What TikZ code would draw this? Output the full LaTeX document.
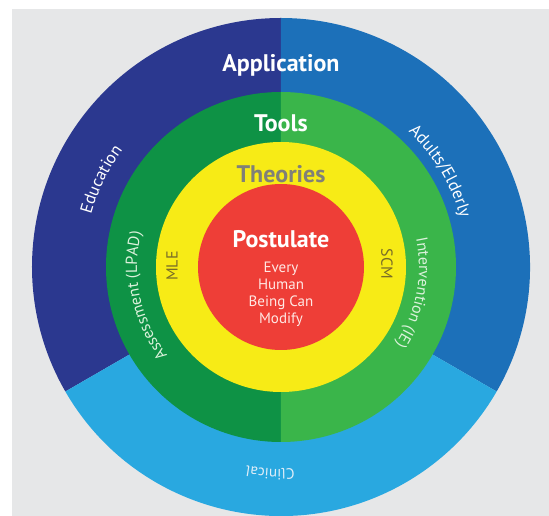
\documentclass[tikz,border=0pt]{standalone}
\usepackage{fontspec}
\setmainfont{PT Sans}
\usetikzlibrary{decorations.text}
\definecolor{bggray}{RGB}{230,231,232}
\definecolor{navy}{RGB}{43,56,143}
\definecolor{midblue}{RGB}{28,112,185}
\definecolor{lightblue}{RGB}{41,168,224}
\definecolor{darkgreen}{RGB}{14,146,69}
\definecolor{lightgreen}{RGB}{58,181,74}
\definecolor{ringyellow}{RGB}{247,235,22}
\definecolor{corered}{RGB}{238,62,55}
\definecolor{theorygray}{RGB}{128,128,120}
\definecolor{olivetext}{RGB}{120,108,40}
\definecolor{palegreen}{RGB}{220,242,220}
\definecolor{paleblue}{RGB}{225,238,248}
\definecolor{palered}{RGB}{255,232,228}
\newcommand\fsBig{\fontsize{24}{28}\bfseries\selectfont}
\newcommand\fsRing{\fontsize{17}{20}\selectfont}
\newcommand\fsTool{\fontsize{16}{19}\selectfont}
\newcommand\fsCore{\fontsize{15}{18}\selectfont}
\newcommand\fsClin{\fontsize{15}{18}\selectfont}
\newcommand\fsTheo{\fontsize{16}{19}\selectfont}
\tikzset{
  bigtitle/.style={anchor=base, font=\fsBig, inner sep=0pt},
  coreline/.style={anchor=base, font=\fsCore, text=palered, inner sep=0pt},
  theory/.style={font=\fsTheo, text=olivetext, inner sep=0pt},
  arctext/.style={decorate, decoration={text along path, text align=center, text color=#1}}
}
\begin{document}
\begin{tikzpicture}[x=1pt,y=1pt]
\useasboundingbox (-281pt,267pt) rectangle (268pt,-249pt);
\fill[white] (-281pt,267pt) rectangle (268pt,-249pt);
\fill[bggray] (-269pt,258pt) rectangle (268pt,-249pt);
% outer ring sectors
\fill[navy] (0,0) -- (90:249pt) arc[start angle=90, end angle=210, radius=249pt] -- cycle;
\fill[midblue] (0,0) -- (-30:249pt) arc[start angle=-30, end angle=90, radius=249pt] -- cycle;
\fill[lightblue] (0,0) -- (210:249pt) arc[start angle=210, end angle=330, radius=249pt] -- cycle;
% green ring halves
\fill[darkgreen] (0,0) -- (90:175pt) arc[start angle=90, end angle=270, radius=175pt] -- cycle;
\fill[lightgreen] (0,0) -- (-90:175pt) arc[start angle=-90, end angle=90, radius=175pt] -- cycle;
% yellow and red
\fill[ringyellow] (0,0) circle[radius=125pt];
\fill[corered] (0,0) circle[radius=83pt];
% straight titles
\node[bigtitle, text=white] (app) at (0pt,195pt) {Application};
\node[bigtitle, text=white] (tools) at (0pt,135pt) {Tools};
\node[bigtitle, text=theorygray] (theories) at (0pt,84pt) {Theories};
\node[bigtitle, text=white] (post) at (0pt,19pt) {Postulate};
\node[coreline] (l1) at (0pt,-6pt) {Every};
\node[coreline] (l2) at (0pt,-23pt) {Human};
\node[coreline] (l3) at (0pt,-40pt) {Being Can};
\node[coreline] (l4) at (0pt,-57pt) {Modify};
\node[theory, rotate=90] (mle) at (-109pt,1pt) {MLE};
\node[theory, rotate=-90] (scm) at (106pt,3pt) {SCM};
% curved labels
\path[arctext=white, decoration={text={|\fsRing|Education}}]
  (184:197pt) arc[start angle=184, end angle=124, radius=197pt];
\path[arctext=white, decoration={text={|\fsRing|Adults/Elderly}}]
  (71:186pt) arc[start angle=71, end angle=-9, radius=186pt];
\path[arctext=palegreen, decoration={text={|\fsTool|Assessment (LPAD)}}]
  (240:144pt) arc[start angle=240, end angle=144, radius=144pt];
\path[arctext=palegreen, decoration={text={|\fsTool|Intervention (IE)}}]
  (37:138pt) arc[start angle=37, end angle=-59, radius=138pt];
\path[arctext=paleblue, decoration={text={|\fsClin|Clinical}}]
  (-53:202pt) arc[start angle=-53, end angle=-133, radius=202pt];
\end{tikzpicture}
\end{document}
